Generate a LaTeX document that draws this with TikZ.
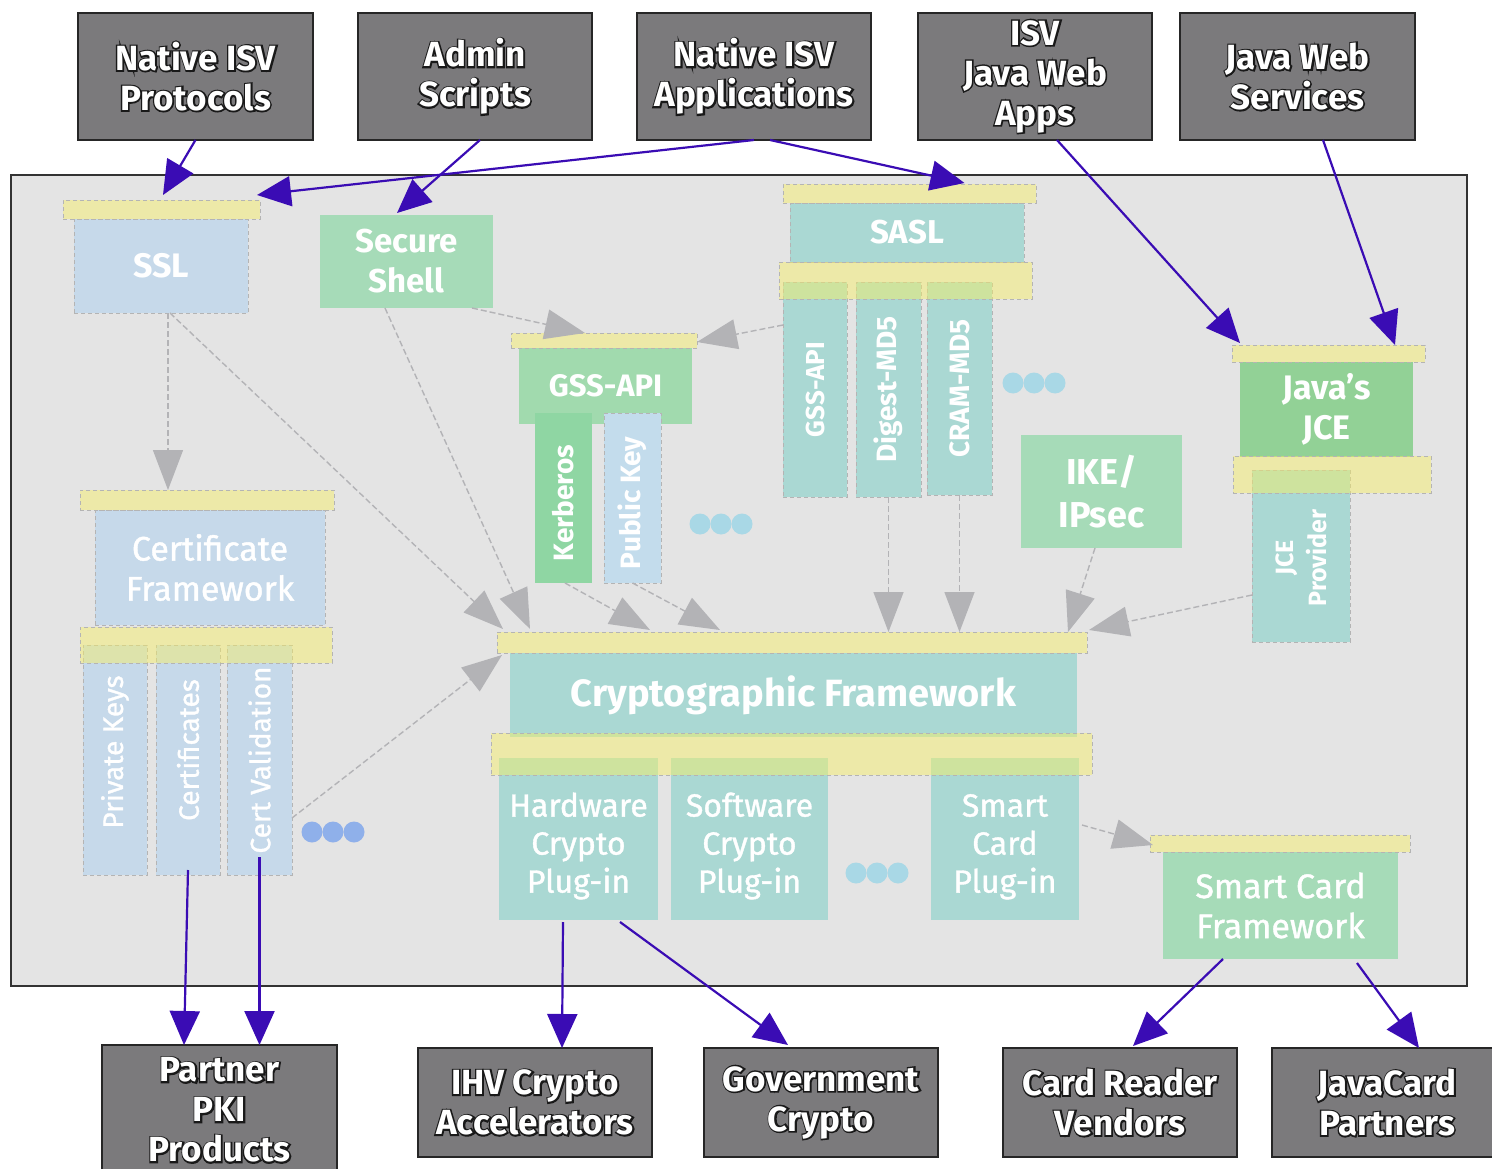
\documentclass[tikz,border=0pt]{standalone}
\usepackage{fontspec}
\setmainfont{Fira Sans}
\newfontfamily\medfont[FakeBold=1.2]{Fira Sans}
\usetikzlibrary{arrows.meta,calc}
\definecolor{panelgray}{HTML}{E4E4E4}
\definecolor{darkbox}{HTML}{7B7A7C}
\definecolor{ybar}{HTML}{FAF15F}
\definecolor{dashgray}{HTML}{B4B4B4}
\definecolor{lblue}{HTML}{C6D9EA}
\definecolor{pgreen}{HTML}{A6DBB8}
\definecolor{ggreen}{HTML}{A1DAAE}
\definecolor{kgreen}{HTML}{8FD6A3}
\definecolor{jgreen}{HTML}{92D196}
\definecolor{teal}{HTML}{AAD8D3}
\definecolor{pblue}{HTML}{C3DCEC}
\definecolor{arrgray}{HTML}{B3B3B6}
\definecolor{arrblue}{HTML}{3A0CB4}
\definecolor{dotblue}{HTML}{A9D8E6}
\definecolor{dotblue2}{HTML}{8FB0EA}
\newcommand{\outl}[1]{\makebox[0pt][l]{\special{pdf:literal direct 2 Tr 0.1 0.1 0.1 RG 3 w}#1\special{pdf:literal direct 0 Tr}}#1}
\tikzset{
  sz/.style 2 args={minimum width=#1pt, minimum height=#2pt},
  box/.style={rectangle, inner sep=0pt, outer sep=0pt, anchor=north west, align=center, text=white},
  ext/.style={box, fill=darkbox, draw=black!85, line width=1.2pt, font=\fontsize{35}{40}\selectfont\bfseries},
  inbox/.style={box, draw=dashgray, dash pattern=on 4pt off 3pt, line width=0.7pt},
  ybarbox/.style={box, fill=ybar, fill opacity=0.45, draw=dashgray, dash pattern=on 4pt off 3pt, line width=0.7pt},
  rotlab/.style={rotate=90, text=white, inner sep=0pt, align=center},
  garr/.style={draw=arrgray, line width=1.4pt, dash pattern=on 6pt off 3pt, -{Triangle[length=40pt,width=30pt]}},
  barr/.style={draw=arrblue, line width=2.2pt, -{Triangle[length=34pt,width=30pt]}},
  dot/.style={circle, fill=#1, inner sep=0pt, minimum size=21pt},
}
\begin{document}
\begin{tikzpicture}[x=1pt,y=-1pt]
\useasboundingbox (0,0) rectangle (1492,1169);
% panel
\node[box, fill=panelgray, draw=black!80, line width=1.5pt, sz={1456}{811}] (panel) at (11,175) {};

% inner boxes
\node[inbox, fill=lblue, sz={174}{94}, font=\fontsize{34}{40}\selectfont\bfseries] (ssl) at (74,219) {SSL};
\node[inbox, fill=pgreen, draw=none, sz={173}{93}, font=\fontsize{33}{40}\selectfont\bfseries] (ssh) at (320,215) {Secure\\Shell};
\node[inbox, fill=teal, sz={234}{59}, font=\fontsize{33}{40}\selectfont\bfseries] (sasl) at (790,203) {SASL};
\node[inbox, fill=teal, sz={64}{215}] (sgss) at (783,282) {};
\node[inbox, fill=teal, sz={65}{215}] (dig) at (856,282) {};
\node[inbox, fill=teal, sz={65}{213}] (cram) at (927,282) {};
\node[inbox, fill=ggreen, draw=none, sz={173}{76}, font=\fontsize{31}{40}\selectfont\bfseries] (gss) at (519,348) {GSS-API};
\node[inbox, fill=kgreen, draw=none, sz={57}{170}] (kerb) at (535,413) {};
\node[inbox, fill=pblue, sz={57}{170}] (pubk) at (604,413) {};
\node[inbox, fill=pgreen, draw=none, sz={161}{113}, font=\fontsize{36}{43}\selectfont\bfseries] (ike) at (1021,435) {IKE/\\IPsec};
\node[inbox, fill=jgreen, draw=none, sz={173}{95}, font=\fontsize{34}{40}\selectfont\bfseries] (jce) at (1240,362) {Java's\\JCE};
\node[inbox, fill=teal, sz={98}{172}] (jcep) at (1252,470) {};
\node[inbox, fill=lblue, sz={230}{115}, font=\fontsize{34}{40}\selectfont\medfont] (cert) at (95,510) {Certificate\\Framework};
\node[inbox, fill=lblue, sz={64}{230}] (pkey) at (83,645) {};
\node[inbox, fill=lblue, sz={64}{230}] (certs) at (156,645) {};
\node[inbox, fill=lblue, sz={65}{230}] (cval) at (227,645) {};
\node[inbox, fill=teal, draw=none, sz={567}{84}, font=\fontsize{38}{40}\selectfont\bfseries] (crypto) at (510,653) {Cryptographic Framework};
\node[inbox, fill=teal, draw=none, sz={159}{162}, font=\fontsize{32}{38}\selectfont\medfont] (hw) at (499,758) {\\Hardware\\Crypto\\Plug-in};
\node[inbox, fill=teal, draw=none, sz={157}{162}, font=\fontsize{32}{38}\selectfont\medfont] (sw) at (671,758) {\\Software\\Crypto\\Plug-in};
\node[inbox, fill=teal, draw=none, sz={148}{162}, font=\fontsize{32}{38}\selectfont\medfont] (scp) at (931,758) {\\Smart\\Card\\Plug-in};
\node[inbox, fill=pgreen, draw=none, sz={235}{107}, font=\fontsize{34}{40}\selectfont\medfont] (scf) at (1163,852) {Smart Card\\Framework};

% rotated labels
\node[rotlab, font=\fontsize{26}{30}\selectfont\bfseries] (sgssL) at (sgss.center) {GSS-API};
\node[rotlab, font=\fontsize{28}{30}\selectfont\bfseries] (digL) at (dig.center) {Digest-MD5};
\node[rotlab, font=\fontsize{28}{30}\selectfont\bfseries] (cramL) at (cram.center) {CRAM-MD5};
\node[rotlab, font=\fontsize{28}{30}\selectfont\bfseries] (kerbL) at ([yshift=-5]kerb.center) {Kerberos};
\node[rotlab, font=\fontsize{28}{30}\selectfont\bfseries] (pubkL) at ([yshift=-5]pubk.center) {Public Key};
\node[rotlab, font=\fontsize{25}{33}\selectfont\bfseries] (jcepL) at ([yshift=-2]jcep.center) {JCE\\Provider};
\node[rotlab, font=\fontsize{28}{30}\selectfont\medfont] (pkeyL) at ([yshift=8]pkey.center) {Private Keys};
\node[rotlab, font=\fontsize{28}{30}\selectfont\medfont] (certsL) at ([yshift=10]certs.center) {Certificates};
\node[rotlab, font=\fontsize{28}{30}\selectfont\medfont] (cvalL) at ([yshift=0]cval.center) {Cert Validation};

% yellow bars
\node[ybarbox, sz={197}{19}] (sslbar) at (63,200) {};
\node[ybarbox, sz={253}{19}] (saslbar) at (783,184) {};
\node[ybarbox, sz={253}{37}] (sasl2bar) at (779,262) {};
\node[ybarbox, sz={186}{15}] (gssbar) at (511,333) {};
\node[ybarbox, sz={193}{17}] (jcebar) at (1232,345) {};
\node[ybarbox, sz={198}{37}] (jce2bar) at (1233,456) {};
\node[ybarbox, sz={254}{20}] (certbar) at (80,490) {};
\node[ybarbox, sz={252}{36}] (cert2bar) at (80,627) {};
\node[ybarbox, sz={590}{21}] (cbar) at (497,632) {};
\node[ybarbox, sz={601}{42}] (c2bar) at (491,733) {};
\node[ybarbox, sz={260}{17}] (scfbar) at (1150,835) {};

% dots
\foreach \i/\x in {1/1013,2/1034,3/1055} \node[dot=dotblue] (dsasl\i) at (\x,383) {};
\foreach \i/\x in {1/700,2/721,3/742} \node[dot=dotblue] (dgss\i) at (\x,524) {};
\foreach \i/\x in {1/312,2/333,3/354} \node[dot=dotblue2] (dcert\i) at (\x,832) {};
\foreach \i/\x in {1/856,2/877,3/898} \node[dot=dotblue] (dcry\i) at (\x,873) {};

% external boxes
\node[ext, sz={235}{127}] (nip) at (78,13) {\outl{Native ISV}\\\outl{Protocols}};
\node[ext, sz={234}{127}] (adm) at (358,13) {\outl{Admin}\\\outl{Scripts}};
\node[ext, sz={234}{127}] (nia) at (637,13) {\outl{Native ISV}\\\outl{Applications}};
\node[ext, sz={234}{127}] (ijw) at (918,13) {\outl{ISV}\\\outl{Java Web}\\\outl{Apps}};
\node[ext, sz={235}{127}] (jws) at (1180,13) {\outl{Java Web}\\\outl{Services}};
\node[ext, sz={235}{130}] (pki) at (102,1045) {\outl{Partner}\\\outl{PKI}\\\outl{Products}};
\node[ext, sz={234}{109}] (ihv) at (418,1048) {\outl{IHV Crypto}\\\outl{Accelerators}};
\node[ext, sz={234}{109}] (gov) at (704,1048) {\outl{Government}\\\outl{Crypto}};
\node[ext, sz={234}{109}] (crv) at (1003,1048) {\outl{Card Reader}\\\outl{Vendors}};
\node[ext, sz={230}{109}] (jcp) at (1272,1048) {\outl{JavaCard}\\\outl{Partners}};

% gray dashed arrows
\draw[garr] ([xshift=7]ssl.south) -- ([xshift=-39]certbar.north);
\draw[garr] ([xshift=9]ssl.south) -- ([xshift=6,yshift=3]cbar.north west);
\draw[garr] ([xshift=-21.5]ssh.south) -- ([xshift=33,yshift=3]cbar.north west);
\draw[garr] ([xshift=65.5]ssh.south) -- ([xshift=-19]gssbar.north);
\draw[garr] ([yshift=-43]sgss.north west) -- ([yshift=-9]gssbar.north east);
\draw[garr] ([xshift=1.5]kerb.south) -- ([xshift=153,yshift=2]cbar.north west);
\draw[garr] (pubk.south) -- ([xshift=223,yshift=2]cbar.north west);
\draw[garr] (dig.south) -- (dig.south |- cbar.north);
\draw[garr] (cram.south) -- (cram.south |- cbar.north);
\draw[garr] ([xshift=-6.5]ike.south) -- ([xshift=-19]cbar.north east);
\draw[garr] ([yshift=-125]jcep.north west) -- ([xshift=2,yshift=2]cbar.north east);
\draw[garr] ([yshift=57]cval.south east) -- ([xshift=5,yshift=-23]cbar.north west);
\draw[garr] ([xshift=3,yshift=-67]scp.north east) -- ([xshift=3,yshift=-10]scfbar.north west);

% blue arrows
\draw[barr] (nip.south) -- ([xshift=1.5,yshift=5]sslbar.north);
\draw[barr] ([xshift=5]adm.south) -- ([xshift=-9.5,yshift=2]ssh.north);
\draw[barr] (nia.south) -- ([xshift=-3,yshift=5]sslbar.north east);
\draw[barr] ([xshift=16]nia.south) -- ([xshift=55,yshift=1]saslbar.north);
\draw[barr] ([xshift=22]ijw.south) -- ([xshift=8,yshift=2]jcebar.north west);
\draw[barr] ([xshift=25.5]jws.south) -- ([xshift=-30]jcebar.north east);
\draw[barr] ([yshift=5]certs.south) -- ([xshift=-35.5]pki.north);
\draw[barr] ([yshift=18]cval.south) -- ([xshift=40]pki.north);
\draw[barr] ([xshift=-15.5,yshift=-2]hw.south) -- ([xshift=27]ihv.north);
\draw[barr] ([xshift=41.5,yshift=-2]hw.south) -- ([xshift=-33,yshift=3]gov.north);
\draw[barr] ([xshift=-57.5]scf.south) -- ([xshift=13,yshift=2]crv.north);
\draw[barr] ([xshift=76.5,yshift=-4]scf.south) -- ([xshift=32]jcp.north);
\end{tikzpicture}
\end{document}
